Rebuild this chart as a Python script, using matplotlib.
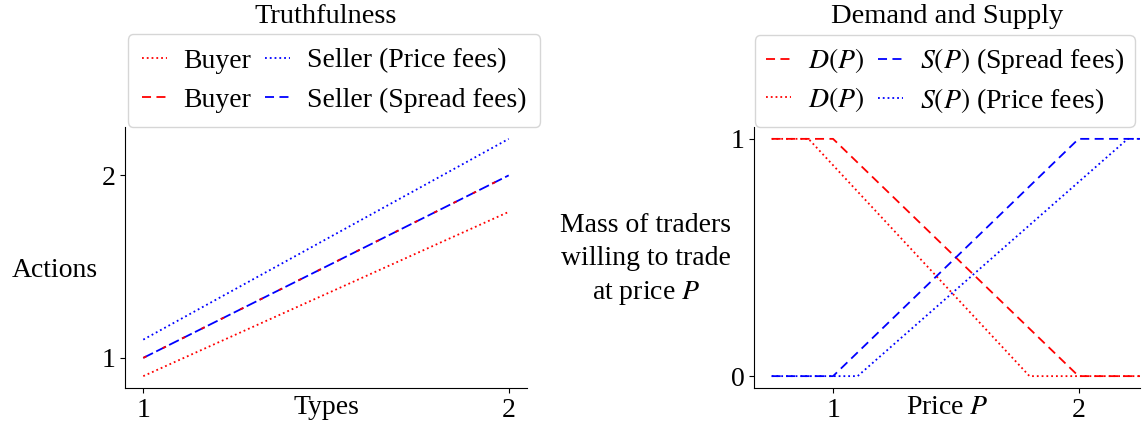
import numpy as np
import matplotlib
matplotlib.use("Agg")
import matplotlib.pyplot as plt

plt.rcParams['font.family'] = ['Liberation Serif', 'DejaVu Serif']
plt.rcParams['mathtext.fontset'] = 'stix'
plt.rcParams['font.size'] = 20

# ---- data ----
types = [1, 2]
buyer_price = [0.9, 1.8]
seller_price = [1.1, 2.2]
buyer_spread = [1.0, 2.0]
seller_spread = [1.0, 2.0]

price_grid = [0.75, 0.9, 1.0, 1.1, 1.8, 2.0, 2.2, 2.25]
demand_spread = [1, 1, 1, 0.9, 0.2, 0, 0, 0]
demand_price = [1, 1, 0.8889, 0.7778, 0, 0, 0, 0]
supply_spread = [0, 0, 0, 0.1, 0.8, 1, 1, 1]
supply_price = [0, 0, 0, 0, 0.6364, 0.8182, 1, 1]

left_yticks = [1, 2]
right_yticks = [0, 1]
xticks = [1, 2]

W, H = 1145, 425
fig = plt.figure(figsize=(W / 100, H / 100), dpi=100)

ax1 = fig.add_axes([125 / W, 1 - 388 / H, (527 - 125) / W, (388 - 127) / H])
ax2 = fig.add_axes([754 / W, 1 - 388 / H, (1140 - 754) / W, (388 - 127) / H])

lw = 1.3
fs = 20
leg_kw = dict(ncol=2, loc='lower left', handlelength=0.9, handletextpad=0.6,
              columnspacing=0.5, borderaxespad=0.1, fontsize=fs)

# Left panel
ax1.plot(types, buyer_price, color='red', ls=':', lw=lw, label='Buyer')
ax1.plot(types, seller_spread, color='blue', ls=(0, (6, 2)), lw=lw)
ax1.plot(types, buyer_spread, color='red', ls=(0, (2, 10)), lw=lw, label='Buyer')
ax1.plot(types, seller_price, color='blue', ls=':', lw=lw, label='Seller (Price fees)')
ax1.plot([], [], color='blue', ls=(0, (5, 3)), lw=lw, label='Seller (Spread fees)')
h, l = ax1.get_legend_handles_labels()
h[1] = plt.Line2D([], [], color='red', ls=(0, (5, 3)), lw=lw)
ax1.set_xticks(xticks)
ax1.set_yticks(left_yticks)
ax1.set_xlabel('Types', labelpad=-20)
ax1.set_ylabel('Actions', rotation=0, ha='center', va='center')
ax1.yaxis.set_label_coords(-0.175, 0.45)
ax1.set_title('Truthfulness', pad=75, fontsize=20.5)
ax1.legend(h, l, bbox_to_anchor=(0.0, 0.99), labelspacing=0.5, borderpad=0.5, **leg_kw)

# Right panel
ax2.plot(price_grid, demand_spread, color='red', ls=(0, (5, 3)), lw=lw, label='$D(P)$')
ax2.plot(price_grid, demand_price, color='red', ls=':', lw=lw, label='$D(P)$')
ax2.plot(price_grid, supply_spread, color='blue', ls=(0, (5, 3)), lw=lw, label='$S(P)$ (Spread fees)')
ax2.plot(price_grid, supply_price, color='blue', ls=':', lw=lw, label='$S(P)$ (Price fees)')
ax2.set_xlim(0.678, 2.25)
ax2.set_xticks(xticks)
ax2.set_yticks(right_yticks)
ax2.set_xlabel('Price $P$', labelpad=-20)
ax2.set_ylabel('Mass of traders\nwilling to trade\nat price $P$', rotation=0,
               ha='center', va='center', linespacing=1.4)
ax2.yaxis.set_label_coords(-0.28, 0.49)
ax2.set_title('Demand and Supply', pad=75, fontsize=20.5)
ax2.legend(bbox_to_anchor=(-0.005, 0.99), labelspacing=0.35, borderpad=0.4, **leg_kw)

for ax in (ax1, ax2):
    ax.spines['top'].set_visible(False)
    ax.spines['right'].set_visible(False)
    ax.tick_params(labelsize=fs)

fig.savefig('out.png', dpi=100)
